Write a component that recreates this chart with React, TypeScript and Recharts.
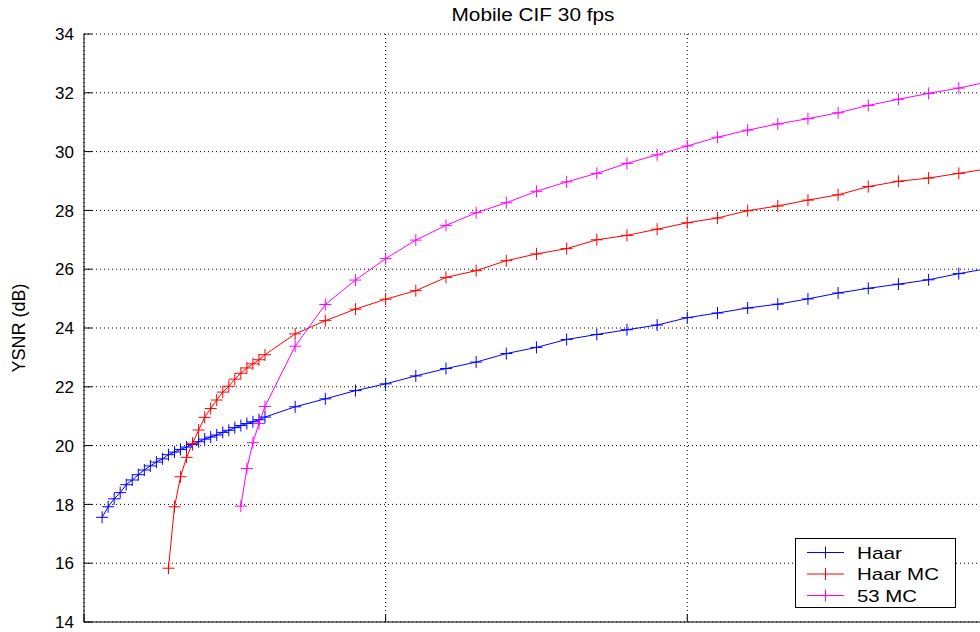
import React from 'react';
import { LineChart, Line, XAxis, YAxis, CartesianGrid, Legend } from 'recharts';

// ---- data (x: rate units, y: YSNR dB) ----
const haarX = [60, 80, 100, 120, 140, 160, 180, 200, 220, 240, 260, 280, 300, 320, 340, 360, 380, 400, 420, 440, 460, 480, 500, 520, 540, 560, 580, 600,
  700, 800, 900, 1000, 1100, 1200, 1300, 1400, 1500, 1600, 1700, 1800, 1900, 2000, 2100, 2200, 2300, 2400, 2500, 2600, 2700, 2800, 2900, 3000];
const haarY = [17.56, 17.92, 18.19, 18.40, 18.67, 18.83, 19.01, 19.17, 19.31, 19.44, 19.55, 19.69, 19.78, 19.87, 19.95, 20.04, 20.13, 20.22, 20.29, 20.36, 20.45, 20.52, 20.61, 20.68, 20.75, 20.81, 20.88, 20.97,
  21.32, 21.59, 21.87, 22.10, 22.37, 22.62, 22.84, 23.13, 23.34, 23.61, 23.78, 23.94, 24.10, 24.35, 24.51, 24.68, 24.81, 24.99, 25.19, 25.35, 25.49, 25.64, 25.85, 26.03];

const haarMcX = [280, 300, 320, 340, 360, 380, 400, 420, 440, 460, 480, 500, 520, 540, 560, 580, 600,
  700, 800, 900, 1000, 1100, 1200, 1300, 1400, 1500, 1600, 1700, 1800, 1900, 2000, 2100, 2200, 2300, 2400, 2500, 2600, 2700, 2800, 2900, 3000];
const haarMcY = [15.83, 17.92, 18.94, 19.60, 20.08, 20.53, 20.96, 21.26, 21.55, 21.82, 22.02, 22.26, 22.46, 22.64, 22.78, 22.92, 23.09,
  23.80, 24.25, 24.64, 24.98, 25.27, 25.72, 25.95, 26.29, 26.52, 26.70, 27.00, 27.15, 27.36, 27.58, 27.74, 27.99, 28.15, 28.35, 28.53, 28.81, 28.99, 29.10, 29.26, 29.42];

const mc53X = [520, 540, 560, 580, 600,
  700, 800, 900, 1000, 1100, 1200, 1300, 1400, 1500, 1600, 1700, 1800, 1900, 2000, 2100, 2200, 2300, 2400, 2500, 2600, 2700, 2800, 2900, 3000];
const mc53Y = [17.94, 19.22, 20.10, 20.75, 21.33,
  23.38, 24.80, 25.63, 26.36, 26.99, 27.49, 27.92, 28.26, 28.65, 28.97, 29.26, 29.60, 29.89, 30.19, 30.49, 30.73, 30.94, 31.12, 31.32, 31.57, 31.78, 31.98, 32.16, 32.38];

const seriesNames = ['Haar', 'Haar MC', '53 MC'];
const seriesColors = ['#0000ff', '#ff0000', '#ff00ff'];
const yTicks = [14, 16, 18, 20, 22, 24, 26, 28, 30, 32, 34];
const xTicks = [0, 1000, 2000];
const titleText = 'Mobile CIF 30 fps';
const yLabelText = 'YSNR (dB)';

const toData = (xs: number[], ys: number[]) => xs.map((x, i) => ({ x, y: ys[i] }));
const seriesData = [toData(haarX, haarY), toData(haarMcX, haarMcY), toData(mc53X, mc53Y)];

const FONT = '"Liberation Sans", Arial, Helvetica, sans-serif';

const YTick = (props: any) => {
  const { x, y, payload } = props;
  return (
    <g>
      <line x1={x} x2={x + 8} y1={y} y2={y} stroke="#000" strokeWidth={1} />
      <text x={x - 10} y={y} dy="0.36em" textAnchor="end" fontSize={17} fontFamily={FONT} fill="#000">
        {payload.value}
      </text>
    </g>
  );
};

const XTick = (props: any) => {
  const { x, y } = props;
  return <line x1={x} x2={x} y1={y} y2={y - 8} stroke="#000" strokeWidth={1} />;
};

const plusDot = (color: string) => (p: any) => {
  const { cx, cy, index } = p;
  if (cx == null || cy == null) return <g key={index} />;
  return (
    <path
      key={index}
      d={`M${cx - 6},${cy}H${cx + 6}M${cx},${cy - 6}V${cy + 6}`}
      stroke={color}
      strokeWidth={1}
      fill="none"
    />
  );
};

const legendTextLen = [45, 82, 60];

const LegendBox = () => (
  <svg width={162} height={71} style={{ display: 'block' }}>
    <rect x={0.5} y={0.5} width={160} height={69} fill="#fff" stroke="#000" strokeWidth={1} />
    {seriesNames.map((name, i) => {
      const cy = 14.5 + i * 21.5;
      return (
        <g key={name}>
          <line x1={12} x2={49} y1={cy} y2={cy} stroke={seriesColors[i]} strokeWidth={1} />
          <line x1={30.5} x2={30.5} y1={cy - 6} y2={cy + 6} stroke={seriesColors[i]} strokeWidth={1} />
          <text
            x={62}
            y={cy}
            dy="0.36em"
            fontSize={17}
            fontFamily={FONT}
            fill="#000"
            textLength={legendTextLen[i]}
            lengthAdjust="spacingAndGlyphs"
          >
            {name}
          </text>
        </g>
      );
    })}
  </svg>
);

export default function App() {
  return (
    <div
      style={{
        position: 'absolute',
        left: 0,
        top: 0,
        width: 980,
        height: 632,
        overflow: 'hidden',
        background: '#fff',
      }}
    >
      <LineChart width={982} height={632} margin={{ top: 34, right: 0, bottom: 0, left: 0 }}>
        <CartesianGrid stroke="#000" strokeDasharray="1 3" strokeWidth={1} />
        <XAxis
          type="number"
          dataKey="x"
          domain={[0, 2977]}
          ticks={xTicks}
          allowDataOverflow
          height={10}
          tickSize={0}
          tickMargin={0}
          tickLine={false}
          axisLine={{ stroke: '#000', strokeWidth: 1 }}
          tick={<XTick />}
          interval={0}
        />
        <YAxis
          type="number"
          domain={[14, 34]}
          ticks={yTicks}
          allowDataOverflow
          width={84}
          tickSize={0}
          tickMargin={0}
          tickLine={false}
          axisLine={{ stroke: '#000', strokeWidth: 1 }}
          tick={<YTick />}
          interval={0}
        />
        <Legend
          layout="vertical"
          align="center"
          verticalAlign="middle"
          content={() => <LegendBox />}
          wrapperStyle={{ position: 'absolute', left: 795, top: 538, width: 162, height: 71 }}
        />
        {seriesData.map((d, i) => (
          <Line
            key={seriesNames[i]}
            name={seriesNames[i]}
            data={d}
            dataKey="y"
            type="linear"
            stroke={seriesColors[i]}
            strokeWidth={1}
            dot={plusDot(seriesColors[i])}
            activeDot={false}
            isAnimationActive={false}
          />
        ))}
      </LineChart>
      <svg
        width={980}
        height={632}
        style={{ position: 'absolute', left: 0, top: 0, pointerEvents: 'none' }}
      >
        <text
          x={533}
          y={21}
          textAnchor="middle"
          fontSize={18}
          fontFamily={FONT}
          fill="#000"
          textLength={163}
          lengthAdjust="spacingAndGlyphs"
        >
          {titleText}
        </text>
        <text
          x={25}
          y={328}
          transform="rotate(-90 25 328)"
          textAnchor="middle"
          fontSize={18}
          fontFamily={FONT}
          fill="#000"
        >
          {yLabelText}
        </text>
      </svg>
    </div>
  );
}
